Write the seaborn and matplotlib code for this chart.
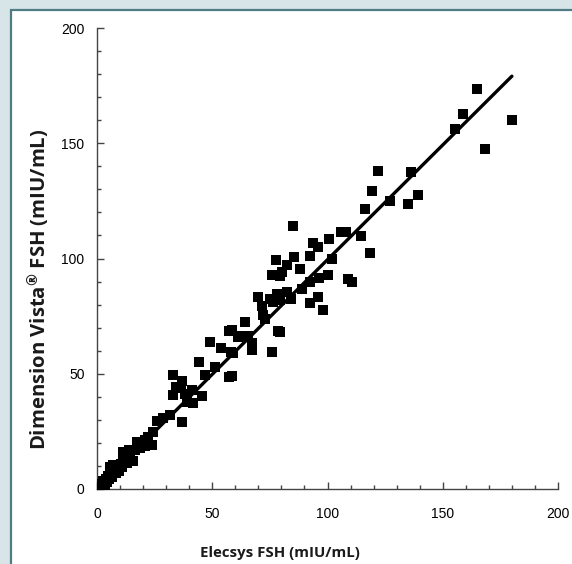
import numpy as np
import pandas as pd
import seaborn as sns
import matplotlib.pyplot as plt
from matplotlib.patches import Rectangle
from matplotlib.ticker import MultipleLocator

# Method comparison data (mIU/mL)
elecsys = [
    165.0, 158.6, 155.5, 180.2, 168.3, 122.0, 136.2, 119.5, 127.1, 135.1,
    139.4, 116.2, 85.0, 105.9, 108.0, 93.8, 95.9, 100.7, 114.6, 92.4,
    85.3, 101.8, 118.5, 88.1, 82.3, 80.1, 100.3, 96.5, 92.4, 108.8,
    110.8, 82.3, 88.8, 79.4, 84.0, 96.0, 92.4, 97.9, 79.4, 77.5,
    75.8, 79.4, 70.0, 75.1, 78.0, 79.4, 71.4, 76.5, 72.2, 73.0,
    64.2, 78.7, 58.4, 61.3, 65.6, 67.1, 67.1, 59.1, 75.8, 58.4,
    57.3, 62.0, 49.0, 53.8, 58.1, 44.3, 51.2, 46.9, 57.3, 33.1,
    36.7, 34.3, 33.1, 38.2, 41.1, 45.4, 41.8, 38.9, 36.3, 31.7,
    36.7, 28.8, 25.9, 24.4, 23.7, 20.8, 18.7, 17.2, 15.8, 14.0,
    11.4, 11.4, 7.1, 5.6, 7.8, 0.3, 0.8, 1.2, 1.8, 2.3,
    2.8, 3.3, 3.8, 4.3, 4.8, 5.3, 6.0, 6.6, 7.4, 8.2,
    8.8, 9.5, 10.2, 10.9, 12.0, 12.8, 13.5, 14.5, 16.5, 19.5,
    22.0, 21.0,
]
vista = [
    173.4, 162.7, 156.3, 160.1, 147.4, 138.0, 137.7, 129.2, 124.9, 123.5,
    127.5, 121.5, 114.0, 111.6, 111.5, 106.9, 104.9, 108.3, 109.6, 101.1,
    100.5, 99.6, 102.6, 95.3, 97.2, 94.3, 92.8, 91.7, 89.9, 91.1,
    89.8, 85.6, 86.6, 84.2, 82.3, 83.2, 80.6, 77.7, 68.2, 99.3,
    92.8, 92.4, 83.4, 82.4, 84.5, 82.0, 79.4, 81.3, 75.5, 73.6,
    72.6, 68.5, 69.0, 66.1, 66.4, 63.2, 60.3, 58.9, 59.3, 49.0,
    68.5, 66.4, 63.9, 61.3, 59.6, 55.2, 53.1, 49.5, 48.5, 49.5,
    46.9, 44.1, 40.8, 41.1, 43.0, 40.3, 37.2, 37.9, 43.7, 32.1,
    29.2, 30.7, 29.5, 24.9, 19.1, 21.3, 17.7, 20.5, 12.3, 16.9,
    16.2, 12.6, 10.4, 9.7, 8.2, 0.2, 0.5, 1.5, 0.8, 2.0,
    3.5, 1.8, 4.2, 3.0, 5.5, 4.4, 6.5, 5.2, 7.8, 6.9,
    9.3, 8.0, 10.8, 9.6, 12.5, 11.2, 14.0, 13.0, 16.8, 19.8,
    22.5, 18.5,
]

# Regression line
fit_slope = 0.995
fit_intercept = 0.0
fit_range = [0.0, 180.0]

x_ticks = [0, 50, 100, 150, 200]
y_ticks = [0, 50, 100, 150, 200]

df = pd.DataFrame({"elecsys": elecsys, "vista": vista})
fit = pd.DataFrame({"x": fit_range})
fit["y"] = fit_slope * fit["x"] + fit_intercept

sns.set_style("ticks")
plt.rcParams["font.family"] = ["Liberation Sans", "DejaVu Sans"]

fig = plt.figure(figsize=(5.72, 5.64), dpi=100, facecolor="#d7e5e9")
# white panel with teal frame, kept behind the axes
fig.patches.append(Rectangle((11 / 572, -0.02), 1.0, (564 - 10) / 564 + 0.02,
                             transform=fig.transFigure, facecolor="white",
                             edgecolor="#4f7c83", linewidth=1.6, zorder=-10))
ax = fig.add_axes([97 / 572, 75 / 564, 461 / 572, 461 / 564])
ax.set_facecolor("none")
ax.set_zorder(5)

sns.scatterplot(data=df, x="elecsys", y="vista", marker="s", s=42,
                color="black", linewidth=0, ax=ax, zorder=3)
sns.lineplot(data=fit, x="x", y="y", color="black", linewidth=2.4, ax=ax, zorder=4)

ax.set_xlim(0, 200)
ax.set_ylim(0, 200)
ax.set_xticks(x_ticks)
ax.set_yticks(y_ticks)
ax.xaxis.set_minor_locator(MultipleLocator(10))
ax.yaxis.set_minor_locator(MultipleLocator(10))
ax.tick_params(which="major", direction="in", length=5, width=1, color="#444444",
               labelsize=10, pad=9, labelcolor="black")
ax.tick_params(axis="x", which="major", pad=13)
ax.tick_params(which="minor", direction="in", length=3, width=1, color="#444444")
sns.despine(ax=ax)
for side in ["left", "bottom"]:
    ax.spines[side].set_color("#444444")
    ax.spines[side].set_linewidth(1)

# axis titles are placed in figure coordinates, as in the original layout
ax.set_xlabel("Elecsys FSH (mIU/mL)", fontsize=10.8, fontweight="bold",
              family=["Open Sans", "DejaVu Sans"], color="#1a1a1a", va="center")
ax.xaxis.set_label_coords(280 / 572, 1 - 553 / 564, transform=fig.transFigure)
ax.set_ylabel(r"Dimension Vista$^{\mathregular{®}}$ FSH (mIU/mL)", fontsize=14.6,
              fontweight="bold", family=["Open Sans", "DejaVu Sans"],
              color="#1a1a1a", va="center")
ax.yaxis.set_label_coords(39 / 572, 1 - 289 / 564, transform=fig.transFigure)

fig.savefig("out.png", dpi=100, facecolor=fig.get_facecolor())
